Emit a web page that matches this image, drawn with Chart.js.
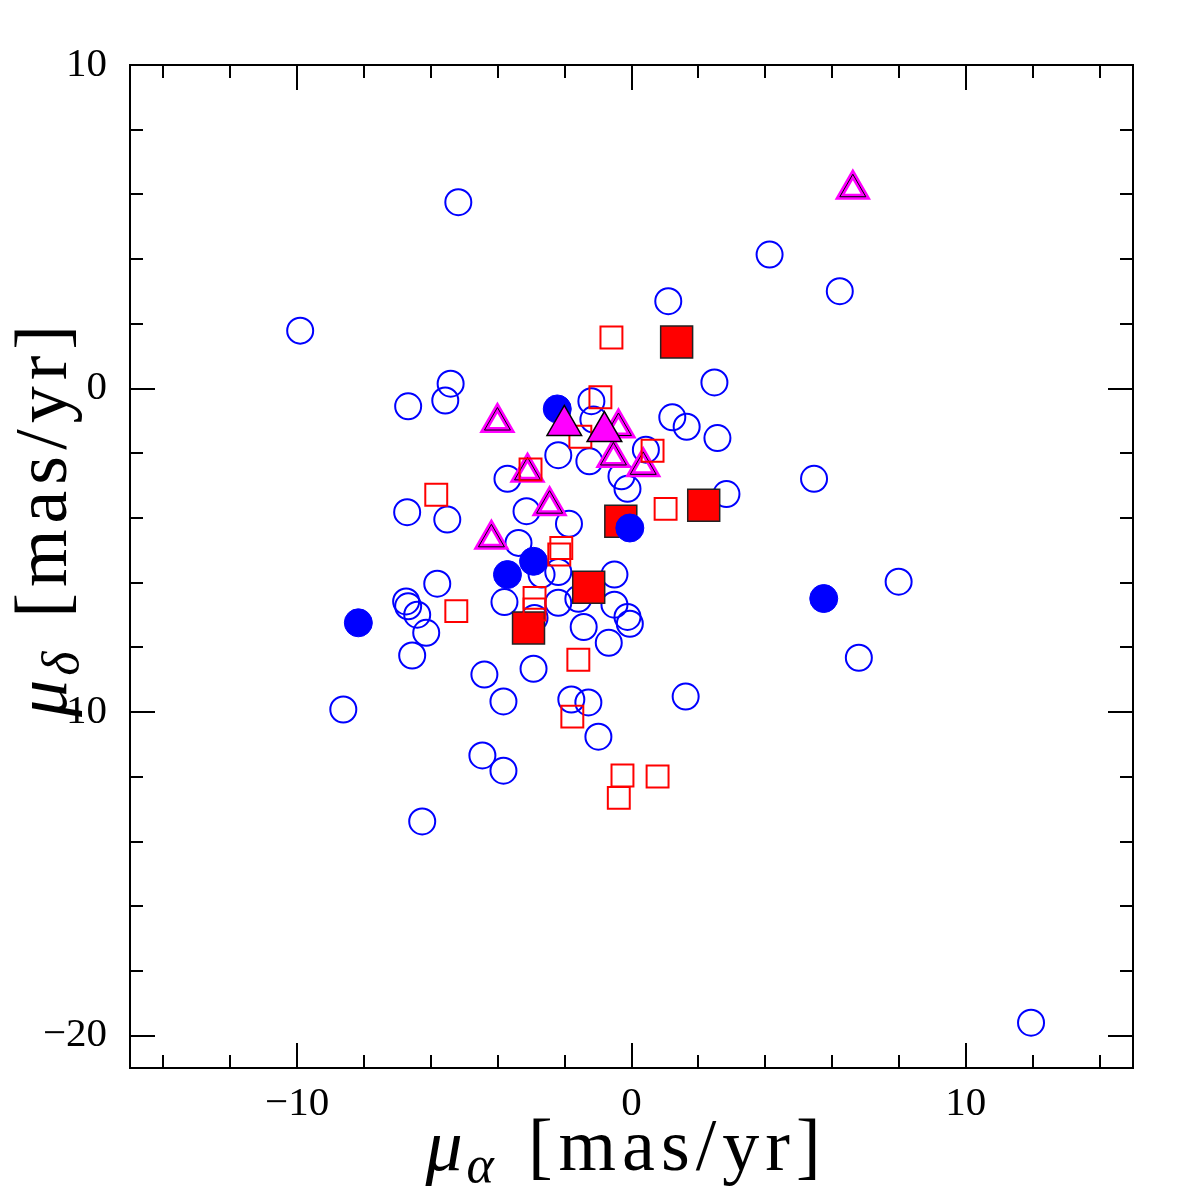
<!DOCTYPE html>
<html>
<head>
<meta charset="utf-8">
<title>Proper motions</title>
<script src="https://cdn.jsdelivr.net/npm/chart.js@4.4.1/dist/chart.umd.min.js"></script>
<style>
  html, body { margin: 0; padding: 0; background: #fff; }
  #wrap { width: 1196px; height: 1196px; }
</style>
</head>
<body>
<div id="wrap"><canvas id="pmChart" width="1196" height="1196"></canvas></div>
<script>
/* veriler: mu_alpha (x) ve mu_delta (y), mas/yr */
var blueOpenX = [-5.18, -9.91, -5.41, -5.57, -6.68, 4.13, 6.23, 1.10, 2.48, 1.22, 1.65, 2.57, 5.46, 2.84, 7.99, 6.80, 1.62, 11.95,
  -8.62, -6.26, -4.46, -3.83, -4.40, -3.83, -2.93, -6.56, -6.14, -6.41, -6.68, -6.74, -5.81, -6.71, -5.51, -3.71, -3.14, -3.38,
  -3.80, -2.90, -2.19, -1.59, -0.51, -0.12, -0.05, -1.43, -0.68, -1.80, -1.29, -0.99, -2.69, -2.19, -0.51, -1.87, -2.19, -1.26,
  -0.30, -0.12, -1.20, -1.14, 0.43];
var blueOpenY = [5.76, 1.79, 0.15, -0.37, -0.55, 4.14, 3.01, 2.70, 0.19, -0.89, -1.18, -1.53, -2.79, -3.26, -5.97, -8.32, -9.52, -19.60,
  -9.92, -13.38, -11.34, -11.81, -8.84, -9.67, -8.66, -8.25, -7.55, -6.99, -6.73, -6.58, -6.03, -3.82, -4.05, -2.79, -3.79, -4.77,
  -6.60, -7.09, -6.62, -6.50, -6.68, -7.06, -7.27, -7.37, -7.86, -9.61, -9.70, -10.76, -5.75, -5.67, -5.75, -4.18, -2.06, -2.25,
  -2.71, -3.10, -0.39, -0.96, -1.89];

var blueFilledX = [-2.22, -0.05, -2.93, -3.71, -8.17, 5.75];
var blueFilledY = [-0.63, -4.31, -5.34, -5.75, -7.24, -6.49];

var redFilledX = [1.35, -0.32, 2.16, -1.28, -3.08];
var redFilledY = [1.44, -4.10, -3.61, -6.14, -7.40];

var redOpenX = [-0.60, -0.93, -1.53, 0.63, -3.02, -5.84, 1.02, -2.10, -2.16, -5.24, -2.90, -2.90, -1.59, -1.77, -0.27, 0.78, -0.38];
var redOpenY = [1.58, -0.27, -1.49, -1.92, -2.50, -3.28, -3.72, -4.93, -5.13, -6.88, -6.47, -6.83, -8.38, -10.14, -11.96, -11.99, -12.65];

var magOpenX = [-4.01, -0.39, -0.54, 0.35, -3.11, -2.45, -4.19, 6.62];
var magOpenY = [-1.05, -1.22, -2.13, -2.42, -2.59, -3.62, -4.66, 6.16];

var magFilledX = [-2.01, -0.81];
var magFilledY = [-1.14, -1.33];

/* eksen ayarlari */
var xTickVals = [-14, -12, -10, -8, -6, -4, -2, 0, 2, 4, 6, 8, 10, 12, 14];
var xLabelVals = [-10, 0, 10];
var yTickVals = [-20, -18, -16, -14, -12, -10, -8, -6, -4, -2, 0, 2, 4, 6, 8, 10];
var yLabelVals = [-20, -10, 0, 10];

var serifAile = "'Liberation Serif', 'DejaVu Serif', serif";

function noktalar(xs, ys) {
  var sonuc = [];
  for (var i = 0; i < xs.length; i++) {
    sonuc.push({x: xs[i], y: ys[i]});
  }
  return sonuc;
}

function etiket(v) {
  return v < 0 ? "\u2212" + Math.abs(v) : String(v);
}

/* baslik: mu + alt simge + [mas/yr] */
function baslikCiz(ctx, altSimge, merkez) {
  ctx.font = "italic 74px " + serifAile;
  var wMu = ctx.measureText("\u03bc").width;
  ctx.font = "italic 52px " + serifAile;
  var wAlt = ctx.measureText(altSimge).width;
  ctx.font = "74px " + serifAile;
  ctx.letterSpacing = "6px";
  var wBirim = ctx.measureText("[mas/yr]").width;
  var bosluk = 34;
  var toplam = wMu + 4 + wAlt + bosluk + wBirim;
  var x0 = merkez - toplam / 2;

  ctx.letterSpacing = "0px";
  ctx.font = "italic 74px " + serifAile;
  ctx.fillText("\u03bc", x0, 0);
  ctx.font = "italic 52px " + serifAile;
  ctx.fillText(altSimge, x0 + wMu + 4, 12);
  ctx.font = "74px " + serifAile;
  ctx.letterSpacing = "6px";
  ctx.fillText("[mas/yr]", x0 + wMu + 4 + wAlt + bosluk, 0);
  ctx.letterSpacing = "0px";
}

var cerceveEksen = {
  id: 'cerceveEksen',
  afterDraw: function (chart) {
    var ctx = chart.ctx;
    var a = chart.chartArea;
    var sx = chart.scales.x;
    var sy = chart.scales.y;
    ctx.save();
    ctx.strokeStyle = "#000";
    ctx.lineWidth = 2;
    ctx.beginPath();
    xTickVals.forEach(function (v) {
      var px = Math.round(sx.getPixelForValue(v));
      var len = xLabelVals.indexOf(v) >= 0 ? 25 : 13;
      ctx.moveTo(px, a.bottom);
      ctx.lineTo(px, a.bottom - len);
      ctx.moveTo(px, a.top);
      ctx.lineTo(px, a.top + len);
    });
    yTickVals.forEach(function (v) {
      var py = Math.round(sy.getPixelForValue(v));
      var len = yLabelVals.indexOf(v) >= 0 ? 25 : 13;
      ctx.moveTo(a.left, py);
      ctx.lineTo(a.left + len, py);
      ctx.moveTo(a.right, py);
      ctx.lineTo(a.right - len, py);
    });
    ctx.stroke();
    ctx.strokeRect(a.left, a.top, a.right - a.left, a.bottom - a.top);

    ctx.fillStyle = "#000";
    ctx.textBaseline = "alphabetic";
    ctx.textAlign = "left";

    // x ekseni basligi
    ctx.save();
    ctx.translate(0, 1170);
    baslikCiz(ctx, "\u03b1", 626);
    ctx.restore();

    // y ekseni basligi
    ctx.save();
    ctx.translate(66, 518);
    ctx.rotate(-Math.PI / 2);
    baslikCiz(ctx, "\u03b4", 0);
    ctx.restore();

    ctx.restore();
  }
};

var ctx = document.getElementById("pmChart");
var myChart = new Chart(ctx, {
  type: 'scatter',
  data: {
    datasets: [{
      label: 'magenta dolu',
      data: noktalar(magFilledX, magFilledY),
      pointStyle: 'triangle',
      pointRadius: 20,
      backgroundColor: "#ff00ff",
      borderColor: "#000",
      borderWidth: 1.5
    }, {
      label: 'kirmizi bos',
      data: noktalar(redOpenX, redOpenY),
      pointStyle: 'rect',
      pointRadius: 15.5,
      backgroundColor: "rgba(0,0,0,0)",
      borderColor: "#ff0000",
      borderWidth: 2
    }, {
      label: 'magenta bos ic',
      data: noktalar(magOpenX, magOpenY),
      pointStyle: 'triangle',
      pointRadius: 15,
      backgroundColor: "rgba(0,0,0,0)",
      borderColor: "#000",
      borderWidth: 1
    }, {
      label: 'magenta bos',
      data: noktalar(magOpenX, magOpenY),
      pointStyle: 'triangle',
      pointRadius: 15,
      backgroundColor: "rgba(0,0,0,0)",
      borderColor: "#ff00ff",
      borderWidth: 6
    }, {
      label: 'mavi dolu',
      data: noktalar(blueFilledX, blueFilledY),
      pointStyle: 'circle',
      pointRadius: 14,
      backgroundColor: "#0000ff",
      borderColor: "#0000ff",
      borderWidth: 1
    }, {
      label: 'kirmizi dolu',
      data: noktalar(redFilledX, redFilledY),
      pointStyle: 'rect',
      pointRadius: 22.6,
      backgroundColor: "#ff0000",
      borderColor: "#222",
      borderWidth: 1.5
    }, {
      label: 'mavi bos',
      data: noktalar(blueOpenX, blueOpenY),
      pointStyle: 'circle',
      pointRadius: 13,
      backgroundColor: "rgba(0,0,0,0)",
      borderColor: "#0000ff",
      borderWidth: 2
    }]
  },
  options: {
    responsive: false,
    animation: false,
    events: [],
    layout: { padding: { top: 65, right: 63, left: 0, bottom: 0 } },
    plugins: {
      legend: { display: false },
      tooltip: { enabled: false }
    },
    scales: {
      x: {
        type: 'linear',
        position: 'bottom',
        min: -15,
        max: 15,
        grid: { display: false, drawTicks: false },
        border: { display: false },
        afterBuildTicks: function (scale) {
          scale.ticks = xTickVals.map(function (v) { return {value: v}; });
        },
        afterFit: function (scale) { scale.height = 128; },
        ticks: {
          autoSkip: false,
          maxRotation: 0,
          padding: 12,
          color: "#000",
          font: { family: serifAile, size: 41 },
          callback: function (v) { return xLabelVals.indexOf(v) >= 0 ? etiket(v) : ''; }
        }
      },
      y: {
        type: 'linear',
        position: 'left',
        min: -21,
        max: 10,
        grid: { display: false, drawTicks: false },
        border: { display: false },
        afterBuildTicks: function (scale) {
          scale.ticks = yTickVals.map(function (v) { return {value: v}; });
        },
        afterFit: function (scale) { scale.width = 130; },
        ticks: {
          autoSkip: false,
          padding: 23,
          color: "#000",
          font: { family: serifAile, size: 41 },
          callback: function (v) { return yLabelVals.indexOf(v) >= 0 ? etiket(v) : ''; }
        }
      }
    }
  },
  plugins: [cerceveEksen]
});
</script>
</body>
</html>
